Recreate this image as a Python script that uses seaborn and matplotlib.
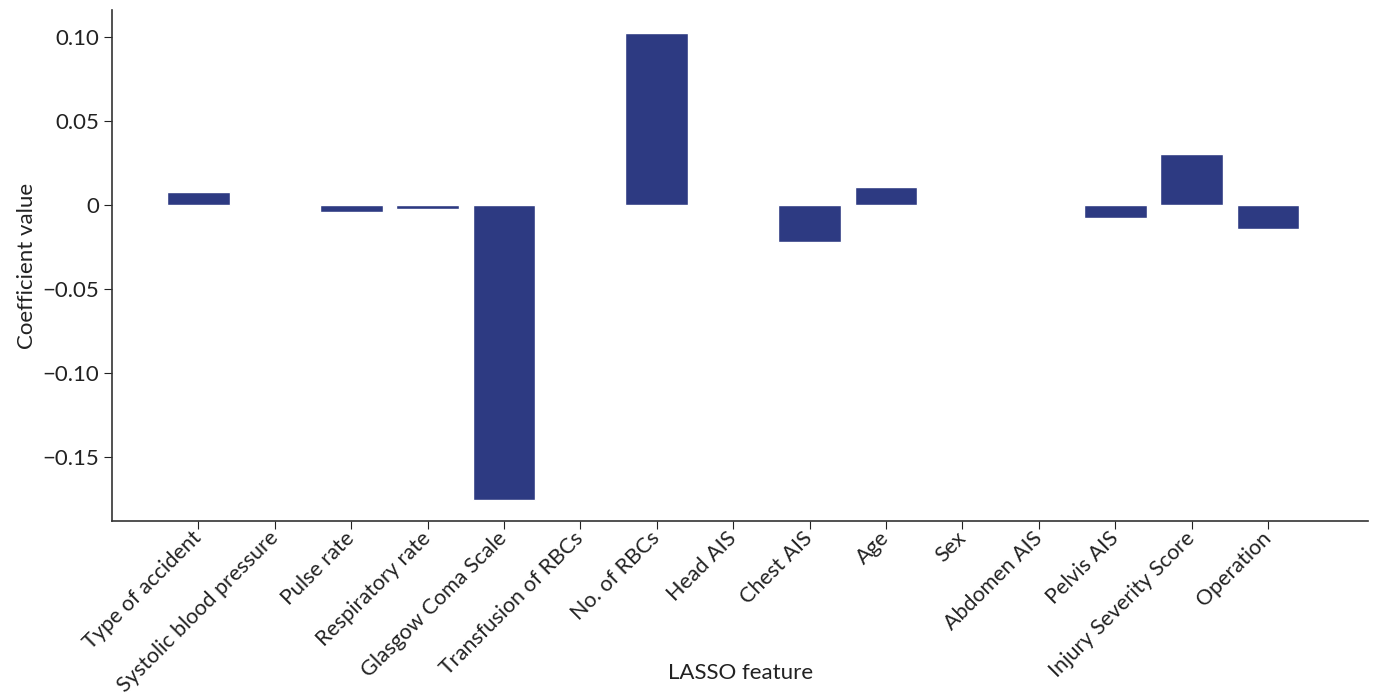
import matplotlib
matplotlib.use("Agg")
import matplotlib.pyplot as plt
import matplotlib.ticker as mticker
import pandas as pd
import seaborn as sns

features = [
    "Type of accident", "Systolic blood pressure", "Pulse rate",
    "Respiratory rate", "Glasgow Coma Scale", "Transfusion of RBCs",
    "No. of RBCs", "Head AIS", "Chest AIS", "Age", "Sex", "Abdomen AIS",
    "Pelvis AIS", "Injury Severity Score", "Operation",
]
coefficients = [
    0.0077, 0.0, -0.0040, -0.0025, -0.1756, 0.0,
    0.1024, 0.0, -0.0220, 0.0105, 0.0, 0.0,
    -0.0080, 0.0302, -0.0140,
]
y_ticks = [-0.15, -0.10, -0.05, 0.0, 0.05, 0.10]

df = pd.DataFrame({"feature": features, "coef": coefficients})

sns.set_style("ticks")
plt.rcParams["font.family"] = ["Lato", "DejaVu Sans"]

fig, ax = plt.subplots(figsize=(13.75, 6.94), dpi=100)
sns.barplot(data=df, x="feature", y="coef", color="#2d3a82",
            saturation=1, width=0.82, ax=ax)

ax.set_xlim(-1.13, len(features) - 1 + 1.31)
ax.set_ylim(-0.188, 0.116)
ax.set_yticks(y_ticks)


def fmt(v, pos):
    if abs(v) < 1e-9:
        return "0"
    return f"{v:.2f}".replace("-", "\u2212")


ax.yaxis.set_major_formatter(mticker.FuncFormatter(fmt))
ax.tick_params(axis="both", labelsize=16, colors="#222222", length=6)
ax.tick_params(axis="x", labelsize=15.5, pad=4)
plt.setp(ax.get_xticklabels(), rotation=45, ha="right", va="center",
         rotation_mode="anchor")
ax.set_xlabel("LASSO feature", fontsize=16, color="#222222", va="center")
ax.xaxis.set_label_coords(0.5, -0.297)
ax.set_ylabel("Coefficient value", fontsize=16, color="#222222")
for s in ["left", "bottom"]:
    ax.spines[s].set_color("#333333")
    ax.spines[s].set_linewidth(1.2)
sns.despine(ax=ax)

fig.subplots_adjust(left=0.0815, right=0.995, top=0.9856, bottom=0.2493)
fig.savefig("out.png", dpi=100)
plt.close(fig)
